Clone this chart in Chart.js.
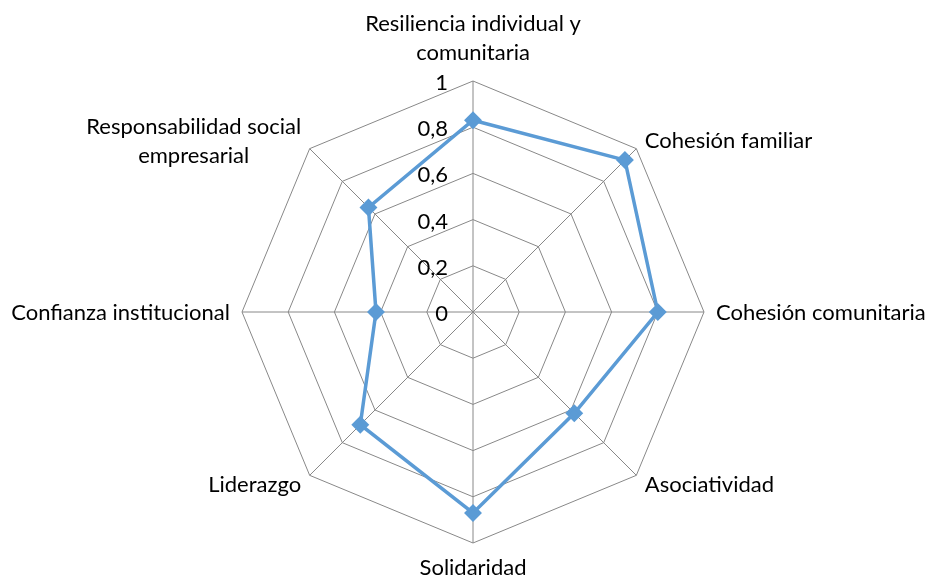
<!DOCTYPE html>
<html>
<head>
<meta charset="utf-8">
<script src="https://cdn.jsdelivr.net/npm/chart.js@4"></script>
<style>
  html, body { margin: 0; padding: 0; background: #fff; }
  #wrap { width: 930px; height: 578px; }
</style>
</head>
<body>
<div id="wrap"><canvas id="radar"></canvas></div>
<script>
const categories = [
  ["Resiliencia individual y", "comunitaria"],
  "Cohesión familiar",
  "Cohesión comunitaria",
  "Asociatividad",
  "Solidaridad",
  "Liderazgo",
  "Confianza institucional",
  ["Responsabilidad social", "empresarial"]
];
const values = [0.83, 0.93, 0.80, 0.62, 0.87, 0.69, 0.42, 0.64];
const tickValues = [0, 0.2, 0.4, 0.6, 0.8, 1];

const FONT = "Lato, 'Open Sans', sans-serif";
const FONT_SIZE = 22;
const LINE_H = 29;

// tick numbers sit left of the vertical axis, comma decimals
const leftTicks = {
  id: 'leftTicks',
  afterDraw(chart) {
    const r = chart.scales.r;
    const ctx = chart.ctx;
    ctx.save();
    ctx.font = FONT_SIZE + "px " + FONT;
    ctx.fillStyle = "#000";
    ctx.textAlign = "right";
    ctx.textBaseline = "middle";
    tickValues.forEach(v => {
      const y = r.yCenter - r.getDistanceFromCenterForValue(v);
      ctx.fillText(String(v).replace('.', ','), r.xCenter - 25, y + 2);
    });
    ctx.restore();
  }
};

// axis names placed just outside the outer ring, Excel style
const axisNames = {
  id: 'axisNames',
  afterDraw(chart) {
    const r = chart.scales.r;
    const ctx = chart.ctx;
    const n = categories.length;
    ctx.save();
    ctx.font = FONT_SIZE + "px " + FONT;
    ctx.fillStyle = "#000";
    ctx.textBaseline = "middle";
    categories.forEach((lab, i) => {
      const lines = Array.isArray(lab) ? lab : [lab];
      const pos = r.getPointPosition(i, r.drawingArea + 12);
      const blockW = Math.max(...lines.map(l => ctx.measureText(l).width));
      const blockH = (lines.length - 1) * LINE_H;
      let cx, firstY;
      if (i === 0) {
        cx = pos.x;
        firstY = pos.y - 16 - blockH;
      } else if (i === n / 2) {
        cx = pos.x;
        firstY = pos.y + 13;
      } else if (i < n / 2) {
        cx = pos.x + blockW / 2;
        firstY = pos.y + 1 - blockH / 2;
      } else {
        cx = pos.x - blockW / 2;
        firstY = pos.y + 1 - blockH / 2;
      }
      ctx.textAlign = "center";
      lines.forEach((l, k) => ctx.fillText(l, cx, firstY + k * LINE_H));
    });
    ctx.restore();
  }
};

new Chart(document.getElementById('radar'), {
  type: 'radar',
  data: {
    labels: categories,
    datasets: [{
      data: values,
      borderColor: '#5B9BD5',
      backgroundColor: '#5B9BD5',
      borderWidth: 3.5,
      fill: false,
      pointStyle: 'rectRot',
      pointRadius: 6.5,
      pointBackgroundColor: '#5B9BD5',
      pointBorderColor: '#5B9BD5',
      tension: 0
    }]
  },
  options: {
    responsive: true,
    maintainAspectRatio: false,
    animation: false,
    layout: { padding: { top: 81, bottom: 35, left: 16, right: 0 } },
    plugins: {
      legend: { display: false },
      tooltip: { enabled: false }
    },
    scales: {
      r: {
        min: 0,
        max: 1,
        ticks: { stepSize: 0.2, display: false },
        grid: { color: '#888888', lineWidth: 1 },
        angleLines: { color: '#888888', lineWidth: 1 },
        pointLabels: { display: false }
      }
    }
  },
  plugins: [leftTicks, axisNames]
});
</script>
</body>
</html>
